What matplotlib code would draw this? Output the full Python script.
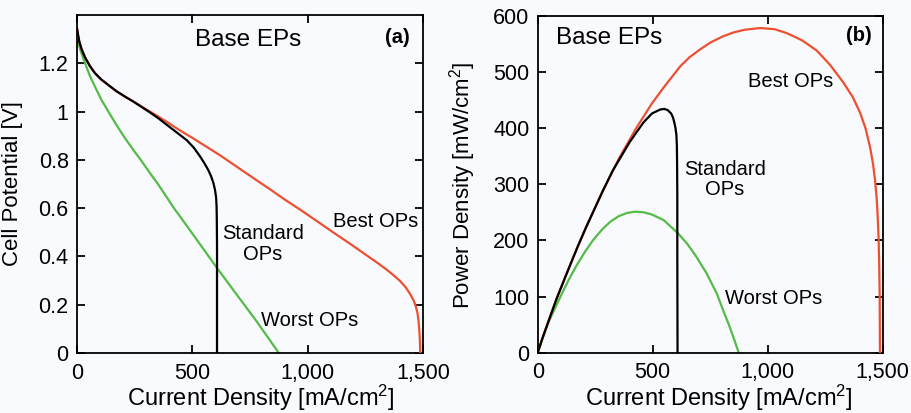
import matplotlib
matplotlib.use("Agg")
import matplotlib.pyplot as plt

plt.rcParams['font.family'] = ['Liberation Sans', 'DejaVu Sans']
plt.rcParams['mathtext.fontset'] = 'custom'
plt.rcParams['mathtext.rm'] = 'Liberation Sans'
plt.rcParams['mathtext.it'] = 'Liberation Sans:italic'

# ---------------- data: (a) polarization curves ----------------
j_best_v = [0, 4, 10, 20, 35, 55, 78, 105, 136, 170, 208, 245, 280, 320, 353, 390, 425, 460, 497,
            552, 620, 692, 764, 837, 900, 967, 1039, 1110, 1183, 1255, 1300, 1340, 1370, 1400,
            1425, 1443, 1458, 1468, 1476, 1481, 1485, 1487, 1488]
v_best = [1.345, 1.32, 1.29, 1.258, 1.224, 1.19, 1.159, 1.133, 1.110, 1.085, 1.062, 1.041, 1.021,
          0.998, 0.979, 0.957, 0.935, 0.914, 0.893, 0.860, 0.819, 0.772, 0.725, 0.678, 0.636,
          0.594, 0.547, 0.500, 0.453, 0.405, 0.375, 0.347, 0.324, 0.299, 0.272, 0.246, 0.220,
          0.196, 0.166, 0.130, 0.080, 0.040, 0.0]

j_std_v = [0, 4, 10, 20, 35, 55, 78, 105, 136, 170, 208, 245, 280, 320, 353, 403, 440, 475, 505,
           533, 551, 569, 581, 591, 598, 603, 605, 606, 607, 607, 607]
v_std = [1.345, 1.32, 1.29, 1.258, 1.224, 1.19, 1.159, 1.133, 1.110, 1.085, 1.062, 1.041, 1.019,
         0.994, 0.972, 0.935, 0.908, 0.882, 0.852, 0.815, 0.788, 0.758, 0.733, 0.705, 0.677,
         0.645, 0.610, 0.560, 0.450, 0.300, 0.0]

j_worst_v = [0, 6, 18, 35, 55, 78, 105, 136, 170, 208, 245, 280, 315, 353, 389, 424, 454, 530,
             607, 700, 750, 778, 875]
v_worst = [1.30, 1.283, 1.245, 1.20, 1.15, 1.103, 1.05, 1.0, 0.946, 0.89, 0.84, 0.795, 0.747,
           0.697, 0.645, 0.595, 0.556, 0.455, 0.352, 0.232, 0.168, 0.132, 0.0]

# ---------------- data: (b) power density curves ----------------
j_best_p = [0, 20, 46, 83, 134, 174, 210, 283, 355, 427, 497, 551, 620, 660, 706, 750, 804, 850,
            900, 967, 1030, 1083, 1150, 1213, 1270, 1329, 1370, 1401, 1425, 1445, 1458, 1467,
            1474, 1478, 1482, 1485, 1487, 1488]
p_best = [0, 25, 55, 97, 149, 189, 223, 288, 347, 399, 444, 474, 510, 526, 540, 552, 563, 570,
          575, 578, 576, 569, 556, 538, 513, 481, 455, 428, 400, 366, 336, 306, 274, 245, 205,
          155, 95, 0]

j_std_p = [0, 20, 46, 83, 134, 174, 210, 283, 326, 355, 400, 427, 460, 497, 533, 550, 565, 580,
           588, 594, 599, 603, 605, 606, 607, 607, 608]
p_std = [0, 25, 55, 97, 149, 189, 223, 288, 324, 344, 375, 391, 410, 426, 433, 434, 432, 426,
         419, 410, 400, 388, 370, 340, 280, 180, 0]

j_worst_p = [0, 15, 32, 50, 76, 105, 134, 170, 206, 240, 279, 315, 352, 390, 424, 460, 497, 548,
             609, 650, 688, 732, 778, 804, 830, 848, 874]
p_worst = [0, 18, 38, 57, 80, 105, 129, 156, 180, 200, 219, 233, 243, 249, 251, 250, 246, 236,
           213, 194, 172, 143, 106, 78, 51, 31, 0]

x_ticks = [0, 500, 1000, 1500]
x_tick_labels = ["0", "500", "1,000", "1,500"]
v_ticks = [0, 0.2, 0.4, 0.6, 0.8, 1.0, 1.2]
v_tick_labels = ["0", "0.2", "0.4", "0.6", "0.8", "1", "1.2"]
p_ticks = [0, 100, 200, 300, 400, 500, 600]
p_tick_labels = ["0", "100", "200", "300", "400", "500", "600"]

RED = '#ee4f30'
GREEN = '#55bb48'
BLACK = '#000000'
BG = '#f9fafd'
LW = 1.6

fig = plt.figure(figsize=(9.12, 4.13), dpi=100, facecolor=BG)
axA = fig.add_axes([77 / 912, 1 - 353 / 413, 346 / 912, 338 / 413], facecolor=BG)
axB = fig.add_axes([537.7 / 912, 1 - 352.7 / 413, 345 / 912, 337 / 413], facecolor=BG)

xlabel = "Current Density [mA/cm$^\\mathregular{2}$]"

for ax in (axA, axB):
    for s in ax.spines.values():
        s.set_linewidth(1.3)
    ax.tick_params(direction='in', top=True, right=True, length=6, width=1.3,
                   labelsize=15.5, pad=6)
    ax.tick_params(axis='x', pad=7)
    ax.set_xlim(0, 1500)
    ax.set_xticks(x_ticks)
    ax.set_xticklabels(x_tick_labels)
    ax.set_xlabel(xlabel, fontsize=17)
    ax.xaxis.label.set_va('baseline')

# (a)
axA.plot(j_worst_v, v_worst, color=GREEN, lw=LW, zorder=2)
axA.plot(j_best_v, v_best, color=RED, lw=LW, zorder=3)
axA.plot(j_std_v, v_std, color=BLACK, lw=LW, zorder=4)
axA.set_ylim(0, 1.4)
axA.set_yticks(v_ticks)
axA.set_yticklabels(v_tick_labels)
axA.set_ylabel("Cell Potential [V]", fontsize=16)
axA.yaxis.set_label_coords(-0.156, 0.5)
axA.xaxis.set_label_coords(0.53, -0.157)

axA.text(741, 1.296, "Base EPs", fontsize=17.5, ha='center', va='center')
axA.text(1391, 1.305, "(a)", fontsize=14.5, fontweight='bold', ha='center', va='center')
axA.text(1296, 0.543, "Best OPs", fontsize=14.5, ha='center', va='center')
axA.text(806, 0.451, "Standard\nOPs", fontsize=14.5, ha='center', va='center',
         multialignment='center', linespacing=1.1)
axA.text(1010, 0.133, "Worst OPs", fontsize=14.5, ha='center', va='center')

# (b)
axB.plot(j_worst_p, p_worst, color=GREEN, lw=LW, zorder=2)
axB.plot(j_best_p, p_best, color=RED, lw=LW, zorder=3)
axB.plot(j_std_p, p_std, color=BLACK, lw=LW, zorder=4)
axB.set_ylim(0, 600)
axB.set_yticks(p_ticks)
axB.set_yticklabels(p_tick_labels)
axB.set_ylabel("Power Density [mW/cm$^\\mathregular{2}$]", fontsize=16)
axB.yaxis.set_label_coords(-0.173, 0.497)
axB.xaxis.set_label_coords(0.526, -0.157)

axB.text(311, 561, "Base EPs", fontsize=17.5, ha='center', va='center')
axB.text(1398, 564, "(b)", fontsize=14.5, fontweight='bold', ha='center', va='center')
axB.text(1101, 483, "Best OPs", fontsize=14.5, ha='center', va='center')
axB.text(814, 308, "Standard\nOPs", fontsize=14.5, ha='center', va='center',
         multialignment='center', linespacing=1.1)
axB.text(1026, 96, "Worst OPs", fontsize=14.5, ha='center', va='center')

fig.savefig("out.png", dpi=100, facecolor=BG)
